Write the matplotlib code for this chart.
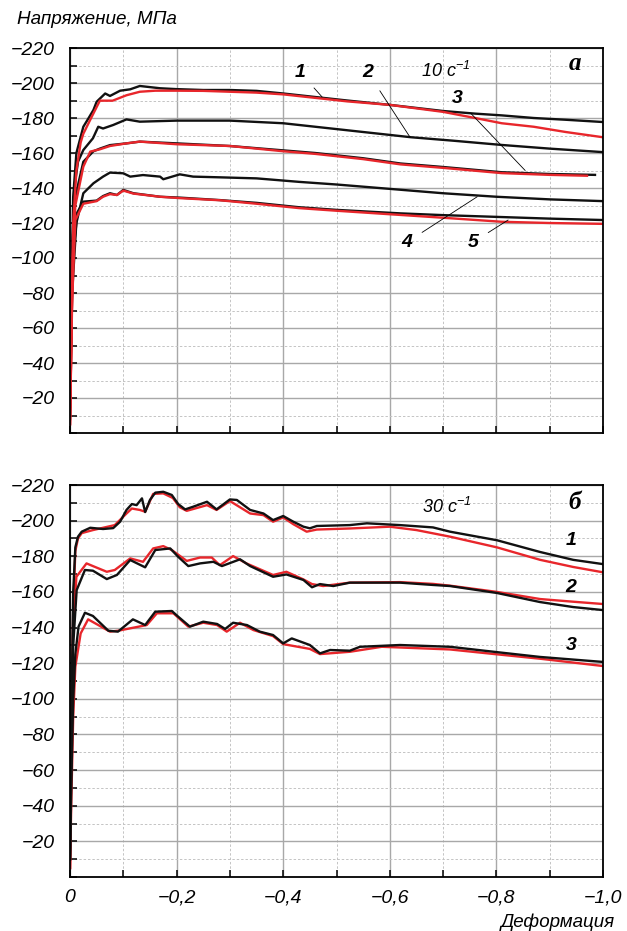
import numpy as np
import matplotlib
matplotlib.use("Agg")
import matplotlib.pyplot as plt
from matplotlib.ticker import MultipleLocator

plt.rcParams['font.family'] = ['Liberation Sans', 'DejaVu Sans']
plt.rcParams['font.style'] = 'italic'
plt.rcParams['mathtext.fontset'] = 'custom'
plt.rcParams['mathtext.rm'] = 'Liberation Sans:italic'
plt.rcParams['mathtext.it'] = 'Liberation Sans:italic'

# ---- panel a (10 1/s): strain magnitude, stress magnitude (MPa) ----
a1k_e = [0, 0.003, 0.006, 0.012, 0.025, 0.035, 0.044, 0.05, 0.066, 0.075, 0.094, 0.113, 0.131, 0.169, 0.2, 0.25, 0.3, 0.35, 0.4, 0.46, 0.52, 0.6, 0.7, 0.76, 0.81, 0.87, 0.93, 1.0]
a1k_s = [10, 80, 135, 160, 175, 180, 184.6, 189.3, 194, 192.6, 195.6, 196.4, 198.3, 197, 196.5, 196, 196, 195.5, 194, 192, 190, 187.5, 184, 182.5, 181.5, 180, 179, 177.7]
a1r_e = [0, 0.003, 0.006, 0.012, 0.02, 0.025, 0.038, 0.056, 0.08, 0.106, 0.131, 0.16, 0.2, 0.25, 0.3, 0.35, 0.4, 0.46, 0.52, 0.6, 0.7, 0.76, 0.81, 0.87, 0.93, 1.0]
a1r_s = [5, 60, 120, 150, 166, 171, 179, 189.9, 189.9, 193, 195, 195.6, 195.6, 195.5, 195, 194.5, 193.5, 191.5, 189.5, 187.5, 183.5, 180, 177, 175, 172, 169]
a2k_e = [0, 0.004, 0.008, 0.015, 0.025, 0.043, 0.053, 0.062, 0.081, 0.106, 0.131, 0.2, 0.3, 0.4, 0.46, 0.55, 0.64, 0.72, 0.81, 0.9, 1.0]
a2k_s = [20, 100, 140, 155, 161.7, 168.4, 175, 174, 176, 179.2, 177.9, 178.5, 178.5, 177, 175, 172, 169, 167, 164.6, 162.5, 160.5]
a3k_e = [0, 0.005, 0.01, 0.025, 0.044, 0.056, 0.075, 0.106, 0.131, 0.2, 0.3, 0.4, 0.46, 0.55, 0.62, 0.7, 0.81, 0.9, 0.985]
a3k_s = [15, 110, 135, 155, 161, 162.5, 164.5, 165.5, 166.5, 165.5, 164, 161.5, 160, 157, 154, 152, 149, 148, 147.5]
a3r_e = [0, 0.005, 0.01, 0.025, 0.038, 0.056, 0.075, 0.106, 0.131, 0.2, 0.3, 0.4, 0.46, 0.55, 0.62, 0.7, 0.81, 0.9, 0.97]
a3r_s = [5, 100, 130, 152.2, 160.8, 162.1, 164, 165.5, 166.5, 165, 164, 161, 159.5, 156.5, 153.5, 151.5, 148.5, 147.5, 147]
a4k_e = [0, 0.005, 0.012, 0.025, 0.044, 0.062, 0.075, 0.1, 0.113, 0.137, 0.169, 0.175, 0.206, 0.231, 0.281, 0.35, 0.43, 0.5, 0.6, 0.7, 0.8, 0.9, 1.0]
a4k_s = [25, 100, 120, 137, 142.7, 146.5, 148.8, 148.4, 146.5, 147.4, 146.5, 145, 147.8, 146.5, 146.1, 145.5, 143.5, 142, 139.5, 137, 135, 133.5, 132.5]
a5k_e = [0, 0.004, 0.013, 0.025, 0.05, 0.062, 0.075, 0.088, 0.1, 0.119, 0.169, 0.206, 0.281, 0.35, 0.43, 0.5, 0.62, 0.7, 0.8, 0.9, 1.0]
a5k_s = [8, 80, 125.7, 132.2, 132.8, 135.4, 137, 136, 138.9, 137, 135, 134.5, 133.1, 131.5, 129, 127.5, 125.5, 124.5, 123.5, 122.5, 121.7]
a5r_e = [0, 0.004, 0.01, 0.025, 0.05, 0.062, 0.075, 0.088, 0.1, 0.119, 0.169, 0.206, 0.281, 0.35, 0.43, 0.5, 0.62, 0.7, 0.81, 0.9, 1.0]
a5r_s = [5, 75, 121.7, 131, 132.5, 135, 136.5, 136, 138.5, 136.8, 135, 134.2, 133, 131, 128.5, 127, 124.6, 123, 120.7, 120, 119.5]

# ---- panel b (30 1/s) ----
b1k_e = [0, 0.003, 0.006, 0.01, 0.015, 0.022, 0.038, 0.062, 0.081, 0.094, 0.106, 0.116, 0.125, 0.135, 0.141, 0.15, 0.16, 0.175, 0.191, 0.203, 0.216, 0.231, 0.257, 0.275, 0.3, 0.313, 0.338, 0.363, 0.381, 0.4, 0.419, 0.438, 0.45, 0.463, 0.525, 0.557, 0.619, 0.681, 0.713, 0.801, 0.882, 0.944, 1.0]
b1k_s = [10, 100, 160, 185, 191, 193.8, 196, 195.3, 195.8, 199.4, 206, 209.3, 208.7, 212.5, 204.8, 211.6, 215.7, 216.2, 214.4, 209.3, 206.3, 207.8, 210.6, 206.3, 211.9, 211.6, 206, 204, 200.3, 202.6, 199.4, 196.6, 195.7, 197, 197.5, 198.5, 197.5, 196.2, 193.8, 189, 182.4, 178, 175.6]
b1r_e = [0, 0.003, 0.006, 0.01, 0.015, 0.022, 0.043, 0.084, 0.106, 0.116, 0.131, 0.141, 0.156, 0.175, 0.193, 0.206, 0.219, 0.257, 0.275, 0.3, 0.338, 0.363, 0.381, 0.4, 0.419, 0.444, 0.463, 0.525, 0.6, 0.65, 0.713, 0.801, 0.882, 0.944, 1.0]
b1r_s = [5, 90, 150, 183, 190, 193, 194.7, 197.5, 204, 206.8, 206, 205, 215, 215.3, 212.7, 207.5, 205.5, 208.7, 206, 211, 204, 203.1, 199.4, 201.8, 198, 193.8, 195, 195.6, 196.6, 194.7, 191, 185, 178, 174, 171]
b2k_e = [0, 0.003, 0.006, 0.0125, 0.028, 0.043, 0.069, 0.088, 0.113, 0.141, 0.16, 0.188, 0.203, 0.222, 0.244, 0.269, 0.285, 0.319, 0.338, 0.381, 0.406, 0.438, 0.454, 0.469, 0.494, 0.525, 0.619, 0.681, 0.713, 0.801, 0.882, 0.944, 1.0]
b2k_s = [10, 80, 130, 161, 172.3, 171.9, 167.2, 169.5, 177.9, 173.8, 183.5, 184.4, 179.7, 174.5, 176, 176.9, 174.5, 178.3, 174.5, 168.5, 169.8, 166.7, 162.6, 164.4, 163.3, 165.2, 165.2, 163.9, 163.3, 159.4, 154.3, 151.5, 149.8]
b2r_e = [0, 0.003, 0.006, 0.012, 0.031, 0.043, 0.069, 0.084, 0.113, 0.137, 0.156, 0.175, 0.191, 0.219, 0.244, 0.266, 0.281, 0.306, 0.331, 0.381, 0.406, 0.438, 0.454, 0.475, 0.525, 0.619, 0.681, 0.713, 0.801, 0.882, 0.944, 1.0]
b2r_s = [5, 90, 140, 168.5, 176, 174.5, 171.3, 172.3, 178.8, 176.9, 184.4, 185.7, 183.5, 177.4, 179.3, 179.3, 175, 180.1, 176, 169.5, 171.3, 167, 164.4, 163.3, 165.2, 165.5, 164.5, 163.5, 160, 156, 154.5, 153.2]
b3k_e = [0, 0.003, 0.006, 0.01, 0.016, 0.028, 0.043, 0.072, 0.09, 0.118, 0.141, 0.16, 0.191, 0.203, 0.225, 0.25, 0.276, 0.291, 0.306, 0.332, 0.356, 0.381, 0.4, 0.416, 0.45, 0.469, 0.488, 0.525, 0.544, 0.619, 0.713, 0.801, 0.882, 1.0]
b3k_s = [10, 60, 100, 125, 140.5, 148.3, 146.5, 138.2, 137.7, 144.6, 141.4, 148.9, 149.3, 146.1, 140.5, 143.3, 142, 139.2, 142.7, 141.4, 137.7, 135.8, 131.1, 133.9, 130.2, 125.5, 127.4, 127, 129.2, 130.2, 129.2, 126.2, 123.5, 120.7]
b3r_e = [0, 0.003, 0.006, 0.01, 0.02, 0.034, 0.075, 0.09, 0.144, 0.163, 0.194, 0.222, 0.25, 0.276, 0.294, 0.319, 0.344, 0.381, 0.4, 0.45, 0.469, 0.525, 0.585, 0.713, 0.8, 0.882, 1.0]
b3r_s = [5, 50, 90, 118, 136.7, 144.6, 137.7, 138.2, 141.4, 148, 148, 140.5, 142.7, 141.4, 137.7, 142.7, 138.6, 135.2, 130.7, 128, 125.1, 126.4, 129.2, 127.7, 125, 122.5, 118.4]

ytick_vals = [20, 40, 60, 80, 100, 120, 140, 160, 180, 200, 220]
xtick_vals = [0, 0.2, 0.4, 0.6, 0.8, 1.0]
xtick_labels = ['0', '\u22120,2', '\u22120,4', '\u22120,6', '\u22120,8', '\u22121,0']

BLACK = '#111111'
RED = '#e8262b'

fig = plt.figure(figsize=(6.27, 9.31), dpi=100)
ax_a = fig.add_axes([70 / 627, 1 - 433 / 931, 533 / 627, 385 / 931])
ax_b = fig.add_axes([70 / 627, 1 - 877 / 931, 533 / 627, 392 / 931])


def neg(v):
    return -np.asarray(v, dtype=float)


def style_axes(ax, show_x):
    ax.set_xlim(0, -1.0)
    ax.set_ylim(0, -220)
    ax.xaxis.set_major_locator(MultipleLocator(0.2))
    ax.xaxis.set_minor_locator(MultipleLocator(0.1))
    ax.set_yticks([-v for v in ytick_vals])
    ax.set_yticklabels(['\u2212%d' % v for v in ytick_vals])
    ax.yaxis.set_minor_locator(MultipleLocator(10))
    ax.grid(which='major', color='#a8a8a8', lw=1.0, ls='-')
    ax.grid(which='minor', color='#c4c4c4', lw=0.7, ls=(0, (2.5, 2)))
    ax.set_axisbelow(True)
    ax.tick_params(which='both', direction='in', top=False, right=False,
                   width=1.1, length=5, color='black')
    ax.tick_params(axis='y', labelsize=14, pad=11)
    ax.tick_params(axis='x', labelsize=14, pad=9)
    if show_x:
        ax.set_xticks([-v for v in xtick_vals])
        ax.set_xticklabels(xtick_labels)
    else:
        ax.tick_params(axis='x', labelbottom=False)
    for sp in ax.spines.values():
        sp.set_linewidth(1.3)
        sp.set_color('black')


style_axes(ax_a, False)
style_axes(ax_b, True)

lw = 1.7
for e, s in [(a1k_e, a1k_s), (a2k_e, a2k_s), (a3k_e, a3k_s), (a4k_e, a4k_s), (a5k_e, a5k_s)]:
    ax_a.plot(neg(e), neg(s), color=BLACK, lw=lw)
for e, s in [(a1r_e, a1r_s), (a3r_e, a3r_s), (a5r_e, a5r_s)]:
    ax_a.plot(neg(e), neg(s), color=RED, lw=lw)
for e, s in [(b1r_e, b1r_s), (b2r_e, b2r_s), (b3r_e, b3r_s)]:
    ax_b.plot(neg(e), neg(s), color=RED, lw=lw)
for e, s in [(b1k_e, b1k_s), (b2k_e, b2k_s), (b3k_e, b3k_s)]:
    ax_b.plot(neg(e), neg(s), color=BLACK, lw=lw)

# curve labels with leader lines (panel a)
lbl = dict(fontsize=14, fontweight='bold', ha='center', va='center',
           arrowprops=dict(arrowstyle='-', color='black', lw=0.6, shrinkA=6, shrinkB=0))
ax_a.annotate('1', xy=(-0.473, -192), xytext=(-0.432, -206), **lbl)
ax_a.annotate('2', xy=(-0.638, -169), xytext=(-0.559, -206), **lbl)
ax_a.annotate('3', xy=(-0.854, -150), xytext=(-0.726, -191), **lbl)
ax_a.annotate('4', xy=(-0.764, -135), xytext=(-0.632, -109), **lbl)
ax_a.annotate('5', xy=(-0.822, -121.7), xytext=(-0.756, -109), **lbl)
ax_a.text(-0.705, -207, '10 с$^{-1}$', fontsize=13, ha='center', va='center')
ax_a.text(-0.947, -211, 'а', fontsize=18, fontweight='bold', ha='center', va='center',
          family=['Liberation Serif', 'DejaVu Serif'])

for t, y in [('1', -189), ('2', -162.7), ('3', -130)]:
    ax_b.text(-0.94, y, t, fontsize=14, fontweight='bold', ha='center', va='center')
ax_b.text(-0.707, -207.6, '30 с$^{-1}$', fontsize=13, ha='center', va='center')
ax_b.text(-0.947, -210, 'б', fontsize=18, fontweight='bold', ha='center', va='center',
          family=['Liberation Serif', 'DejaVu Serif'])

fig.text(17 / 627, 1 - 20 / 931, 'Напряжение, МПа', fontsize=13.6, ha='left', va='center')
fig.text(615 / 627, 1 - 922 / 931, 'Деформация', fontsize=13.5, ha='right', va='center')

fig.savefig('out.png', dpi=100)
